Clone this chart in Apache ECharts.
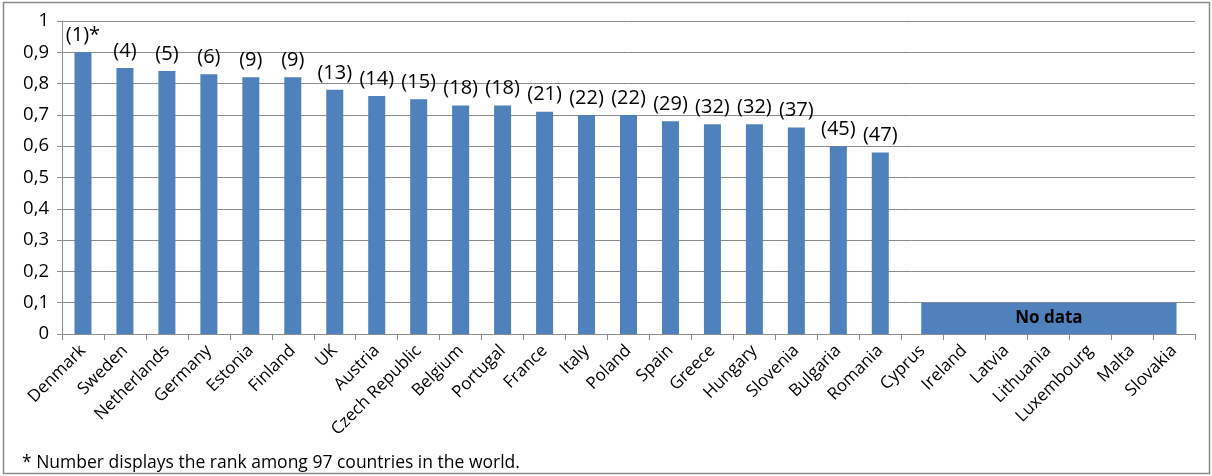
<!DOCTYPE html>
<html>
<head>
<meta charset="utf-8">
<script src="https://cdn.jsdelivr.net/npm/echarts@6/dist/echarts.min.js"></script>
<style>
html,body{margin:0;padding:0;background:#fff;}
#c{width:1212px;height:476px;}
</style>
</head>
<body>
<div id="c"></div>
<script>
var countries = ['Denmark','Sweden','Netherlands','Germany','Estonia','Finland','UK','Austria','Czech Republic','Belgium','Portugal','France','Italy','Poland','Spain','Greece','Hungary','Slovenia','Bulgaria','Romania','Cyprus','Ireland','Latvia','Lithuania','Luxembourg','Malta','Slovakia'];
var values = [0.90,0.85,0.84,0.83,0.82,0.82,0.78,0.76,0.75,0.73,0.73,0.71,0.70,0.70,0.68,0.67,0.67,0.66,0.60,0.58,null,null,null,null,null,null,null];
var ranks = ['(1)*','(4)','(5)','(6)','(9)','(9)','(13)','(14)','(15)','(18)','(18)','(21)','(22)','(22)','(29)','(32)','(32)','(37)','(45)','(47)','','','','','','',''];
var noDataFrom = 'Cyprus', noDataTo = 'Slovakia', noDataValue = 0.1, noDataText = 'No data';
var footnote = '* Number displays the rank among 97 countries in the world.';

var FONT = 'Open Sans';
var chart = echarts.init(document.getElementById('c'), null, {renderer:'canvas'});
chart.setOption({
  animation:false,
  textStyle:{fontFamily:FONT},
  grid:{left:62,right:17,top:21,bottom:142,containLabel:false},
  graphic:[
    {type:'rect',shape:{x:3.5,y:2.5,width:1206,height:471},style:{fill:'none',stroke:'#8a8a8a',lineWidth:1.5},silent:true},
    {type:'text',left:22,top:454,style:{text:footnote,font:'17.5px "Open Sans"',fill:'#000'}}
  ],
  xAxis:{
    type:'category',data:countries,
    axisLine:{show:true,lineStyle:{color:'#8c8c8c',width:1}},
    axisTick:{show:true,length:6,lineStyle:{color:'#8c8c8c'}},
    axisLabel:{rotate:45,interval:0,color:'#000',fontSize:17,fontFamily:FONT,margin:14}
  },
  yAxis:{
    type:'value',min:0,max:1,interval:0.1,
    axisLine:{show:true,lineStyle:{color:'#8c8c8c',width:1}},
    axisTick:{show:true,length:5,lineStyle:{color:'#8c8c8c'}},
    splitLine:{show:true,lineStyle:{color:'#8c8c8c',width:1}},
    axisLabel:{color:'#000',fontSize:18.5,fontFamily:FONT,margin:13,
      formatter:function(v){return (Math.round(v*10)/10).toString().replace('.',',');}}
  },
  series:[{
    type:'bar',data:values,barWidth:17,
    itemStyle:{color:'#4f81bd'},
    label:{show:true,position:'top',distance:7,color:'#000',fontSize:20,fontFamily:FONT,
      formatter:function(p){return ranks[p.dataIndex];}}
  },{
    type:'custom',silent:true,z:3,
    data:[[countries.indexOf(noDataFrom),countries.indexOf(noDataTo),noDataValue]],
    renderItem:function(params,api){
      var p0 = api.coord([api.value(0),0]);
      var p1 = api.coord([api.value(1),api.value(2)]);
      var half = api.size([1,0])[0]*0.06;
      return {
        type:'rect',
        shape:{x:p0[0]-1,y:p1[1],width:p1[0]-p0[0]+1+half,height:p0[1]-p1[1]},
        style:{fill:'#4f81bd'},
        textContent:{style:{text:noDataText,fill:'#000',font:'bold 17px "Open Sans"'}},
        textConfig:{position:'inside'}
      };
    }
  }]
});
</script>
</body>
</html>
